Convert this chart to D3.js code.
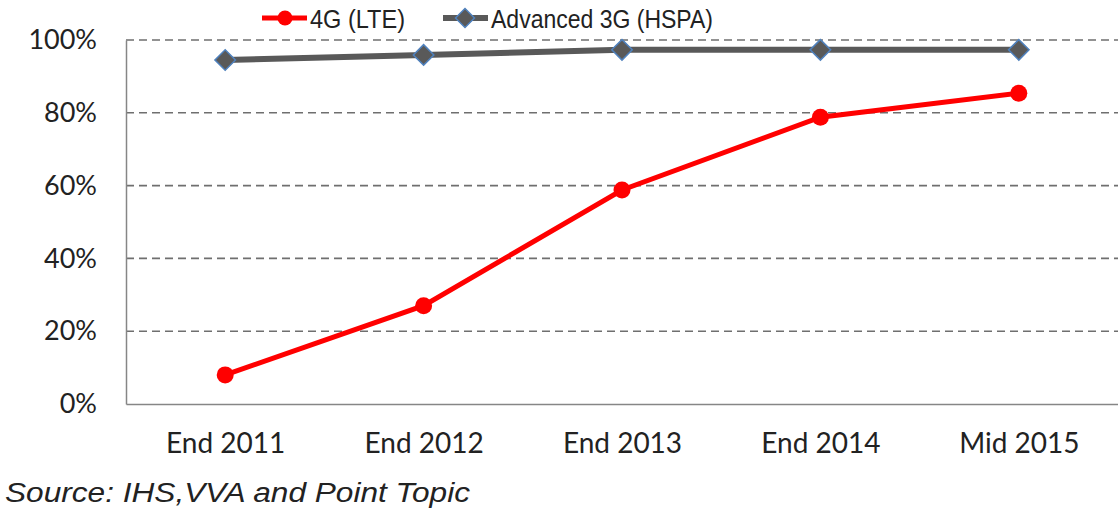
<!DOCTYPE html>
<html><head><meta charset="utf-8">
<script src="https://cdn.jsdelivr.net/npm/d3@7"></script>
<style>body{margin:0;background:#fff;} svg{display:block;}</style>
</head><body>
<svg id="chart" width="1118" height="509"></svg>
<script>
const categories = ["End 2011","End 2012","End 2013","End 2014","Mid 2015"];
const lte = [8.0, 27.0, 58.8, 78.8, 85.4];
const hspa = [94.5, 95.9, 97.3, 97.3, 97.3];
const yTicks = [0, 20, 40, 60, 80, 100];
const seriesNames = ["4G (LTE)", "Advanced 3G (HSPA)"];
const sourceText = "Source:  IHS,VVA and Point Topic";

const svg = d3.select("#chart");
const m = {left:126, right:1118, top:40, bottom:404};
const x = d3.scalePoint().domain(categories).range([m.left, m.right]).padding(0.5);
const y = d3.scaleLinear().domain([0,100]).range([m.bottom, m.top]);

// gridlines
svg.append("g").selectAll("line").data(yTicks.filter(d=>d>0)).join("line")
  .attr("x1", m.left).attr("x2", m.right)
  .attr("y1", d=>y(d)).attr("y2", d=>y(d))
  .attr("stroke", "#6f6f6f").attr("stroke-width", 1.6).attr("stroke-dasharray", "8,5");

const tickFont = "Lato, 'Open Sans', sans-serif";
// axes
const yAxis = svg.append("g").attr("transform", `translate(${m.left},0)`)
  .call(d3.axisLeft(y).tickValues(yTicks).tickFormat(d=>d+"%").tickSize(0).tickPadding(29));
yAxis.select(".domain").attr("stroke", "#868686").attr("stroke-width", 1.5);
yAxis.selectAll("text").attr("font-family", tickFont).attr("font-size", 27).attr("fill", "#222");

const xAxis = svg.append("g").attr("transform", `translate(0,${m.bottom})`)
  .call(d3.axisBottom(x).tickSize(0).tickPadding(29));
xAxis.select(".domain").attr("stroke", "#868686").attr("stroke-width", 1.5);
xAxis.selectAll("text").attr("font-family", tickFont).attr("font-size", 28).attr("fill", "#222");

// HSPA line
const line = d3.line().x((d,i)=>x(categories[i])).y(d=>y(d));
svg.append("path").datum(hspa).attr("d", line).attr("fill","none")
  .attr("stroke","#595959").attr("stroke-width",6);
const diamond = d3.symbol().type(d3.symbolSquare).size(210);
svg.append("g").selectAll("path").data(hspa).join("path")
  .attr("d", diamond)
  .attr("transform", (d,i)=>`translate(${x(categories[i])},${y(d)}) rotate(45)`)
  .attr("fill","#595959").attr("stroke","#4f81bd").attr("stroke-width",1.5);

// LTE line
svg.append("path").datum(lte).attr("d", line).attr("fill","none")
  .attr("stroke","#ff0000").attr("stroke-width",5);
svg.append("g").selectAll("circle").data(lte).join("circle")
  .attr("cx", (d,i)=>x(categories[i])).attr("cy", d=>y(d)).attr("r", 8.5)
  .attr("fill","#ff0000");

// legend
const legFont = "'Liberation Sans Narrow', 'Liberation Sans', Arial, sans-serif";
const lg = svg.append("g");
lg.append("line").attr("x1",262).attr("x2",307).attr("y1",18).attr("y2",18)
  .attr("stroke","#ff0000").attr("stroke-width",5);
lg.append("circle").attr("cx",285).attr("cy",18).attr("r",7.5).attr("fill","#ff0000");
lg.append("text").attr("x",310).attr("y",28).text(seriesNames[0])
  .attr("font-family",legFont).attr("font-size",26).attr("fill","#222")
  .attr("textLength", 95).attr("lengthAdjust","spacingAndGlyphs");
lg.append("line").attr("x1",443).attr("x2",488).attr("y1",18).attr("y2",18)
  .attr("stroke","#595959").attr("stroke-width",6);
lg.append("path").attr("d", d3.symbol().type(d3.symbolSquare).size(180))
  .attr("transform","translate(465,18) rotate(45)")
  .attr("fill","#595959").attr("stroke","#4f81bd").attr("stroke-width",1.5);
lg.append("text").attr("x",491).attr("y",28).text(seriesNames[1])
  .attr("font-family",legFont).attr("font-size",26).attr("fill","#222")
  .attr("textLength", 222).attr("lengthAdjust","spacingAndGlyphs");

// source
svg.append("text").attr("x",5).attr("y",502).text(sourceText)
  .attr("font-family","'Liberation Sans', Arial, sans-serif").attr("font-style","italic")
  .attr("font-size",27).attr("fill","#222")
  .attr("textLength", 465).attr("lengthAdjust","spacingAndGlyphs");
</script>
</body></html>
